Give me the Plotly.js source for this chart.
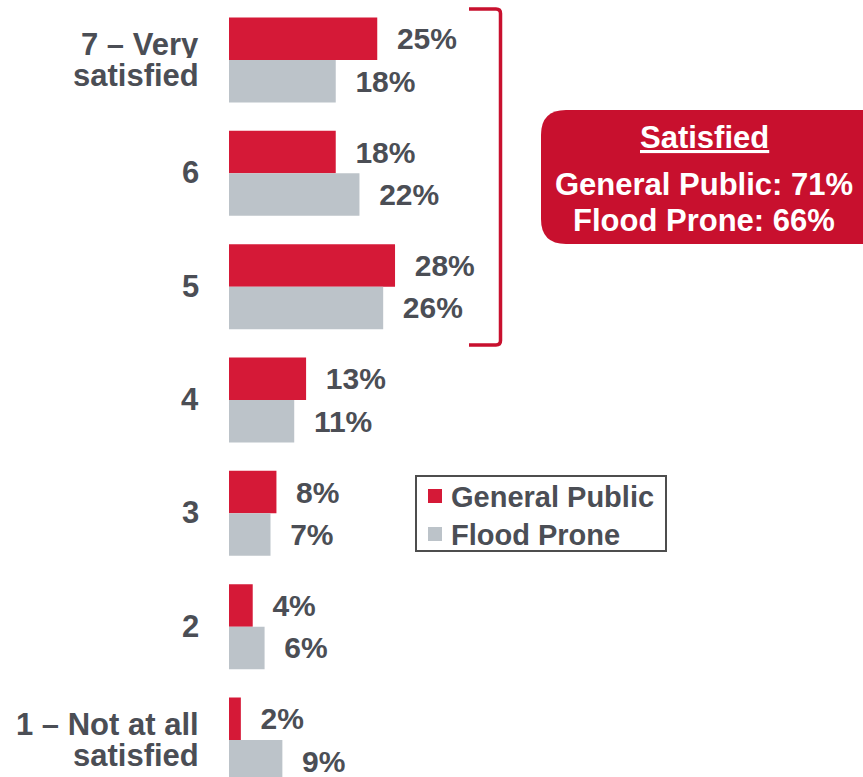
<!DOCTYPE html>
<html>
<head>
<meta charset="utf-8">
<script src="https://cdn.plot.ly/plotly-3.0.1.min.js"></script>
<style>html,body{margin:0;padding:0;background:#fff;}#chart{width:863px;height:777px;}</style>
</head>
<body>
<div id="chart"></div>
<script>
// ---- data ----
const categories = ['7 – Very satisfied', '6', '5', '4', '3', '2', '1 – Not at all satisfied'];
const tickLabels = ['7 – Very<br>satisfied', '6', '5', '4', '3', '2', '1 – Not at all<br>satisfied'];
const generalPublic = [25, 18, 28, 13, 8, 4, 2];
const floodProne = [18, 22, 26, 11, 7, 6, 9];
const seriesNames = ['General Public', 'Flood Prone'];
const summaryTitle = 'Satisfied';
const summaryGeneral = 71;
const summaryFlood = 66;

// ---- layout helpers (pixel -> paper) ----
const W = 863, H = 777, L = 229;
const px = x => (x - L) / (W - L);
const py = y => 1 - y / H;

const FONT = '"Liberation Sans", Arial, sans-serif';
const TXT = '#4b4e55';
const RED = '#d51937';
const GREY = '#bcc3c9';
const DARKRED = '#c8102e';
const COLORS = [RED, GREY];

function barTrace(name, vals, color) {
  return {
    type: 'bar', orientation: 'h', name: name,
    y: categories, x: vals,
    marker: {color: color},
    text: vals.map(v => '\u00a0\u00a0' + v + '%'),
    textposition: 'outside',
    textfont: {family: FONT, size: 30, color: TXT, weight: 700},
    cliponaxis: false,
    hoverinfo: 'skip'
  };
}

const data = [
  barTrace(seriesNames[0], generalPublic, RED),
  barTrace(seriesNames[1], floodProne, GREY)
];

function roundRect(x0, y0, x1, y1, r) {
  return `M ${px(x0 + r)},${py(y0)} L ${px(x1 - r)},${py(y0)} Q ${px(x1)},${py(y0)} ${px(x1)},${py(y0 + r)} ` +
         `L ${px(x1)},${py(y1 - r)} Q ${px(x1)},${py(y1)} ${px(x1 - r)},${py(y1)} ` +
         `L ${px(x0 + r)},${py(y1)} Q ${px(x0)},${py(y1)} ${px(x0)},${py(y1 - r)} ` +
         `L ${px(x0)},${py(y0 + r)} Q ${px(x0)},${py(y0)} ${px(x0 + r)},${py(y0)} Z`;
}

const bracket = `M ${px(469)},${py(9)} L ${px(496)},${py(9)} Q ${px(500.5)},${py(9)} ${px(500.5)},${py(13.5)} ` +
                `L ${px(500.5)},${py(340.5)} Q ${px(500.5)},${py(345)} ${px(496)},${py(345)} L ${px(469)},${py(345)}`;

// category tick labels (one annotation per line for tight line spacing)
const tickAnnotations = [];
categories.forEach((c, i) => {
  const lines = tickLabels[i].split('<br>');
  const n = lines.length;
  lines.forEach((ln, j) => {
    tickAnnotations.push({
      xref: 'paper', yref: 'y', x: 0, y: i, xanchor: 'right', yanchor: 'middle',
      xshift: -29, yshift: ((n - 1) / 2 - j) * 31 + 1,
      height: 28, valign: 'middle', borderpad: 0,
      showarrow: false, text: ln,
      font: {family: FONT, size: 31, color: TXT, weight: 700}
    });
  });
});

// legend (box, swatches, labels)
const legendShapes = [
  {type: 'rect', xref: 'paper', yref: 'paper', x0: px(416), x1: px(666), y0: py(476), y1: py(551),
   line: {color: '#4d4d4d', width: 2}, fillcolor: '#ffffff'}
];
const legendRowY = [496, 534];
const legendAnnotations = [];
seriesNames.forEach((nm, i) => {
  const cy = legendRowY[i];
  legendShapes.push({type: 'rect', xref: 'paper', yref: 'paper',
    x0: px(428), x1: px(442), y0: py(cy - 7), y1: py(cy + 7),
    line: {width: 0}, fillcolor: COLORS[i]});
  legendAnnotations.push({xref: 'paper', yref: 'paper', x: px(449), y: py(cy + 1),
    xanchor: 'left', yanchor: 'middle', showarrow: false, text: nm,
    font: {family: FONT, size: 29, color: TXT, weight: 700}});
});

const boxFont = {family: FONT, size: 31, color: '#ffffff', weight: 700};
const boxAnnotations = [
  {text: `<span style="text-decoration:underline">${summaryTitle}</span>`, y: 138},
  {text: `${seriesNames[0]}: ${summaryGeneral}%`, y: 184},
  {text: `${seriesNames[1]}: ${summaryFlood}%`, y: 221}
].map(a => ({xref: 'paper', yref: 'paper', x: px(704), y: py(a.y), xanchor: 'center', yanchor: 'middle',
  showarrow: false, text: a.text, font: boxFont}));

const layout = {
  width: W, height: H,
  margin: {l: L, r: 0, t: 0, b: 0, pad: 0},
  paper_bgcolor: '#fff', plot_bgcolor: '#fff',
  barmode: 'group', bargap: 0.25, bargroupgap: 0,
  showlegend: false,
  xaxis: {
    range: [0, (W - L) / 5.93], visible: false, fixedrange: true
  },
  yaxis: {
    type: 'category', categoryorder: 'array', categoryarray: categories,
    range: [6.3265, -0.5294],
    showticklabels: false,
    ticks: '', showline: false, showgrid: false, zeroline: false,
    fixedrange: true
  },
  shapes: [
    {type: 'path', xref: 'paper', yref: 'paper', path: bracket,
     line: {color: DARKRED, width: 3.5}, fillcolor: 'rgba(0,0,0,0)'},
    {type: 'path', xref: 'paper', yref: 'paper', path: roundRect(541, 110, 890, 244, 25),
     line: {width: 0}, fillcolor: DARKRED}
  ].concat(legendShapes),
  annotations: tickAnnotations.concat(legendAnnotations, boxAnnotations)
};

Plotly.newPlot('chart', data, layout, {displayModeBar: false, staticPlot: true});
</script>
</body>
</html>
